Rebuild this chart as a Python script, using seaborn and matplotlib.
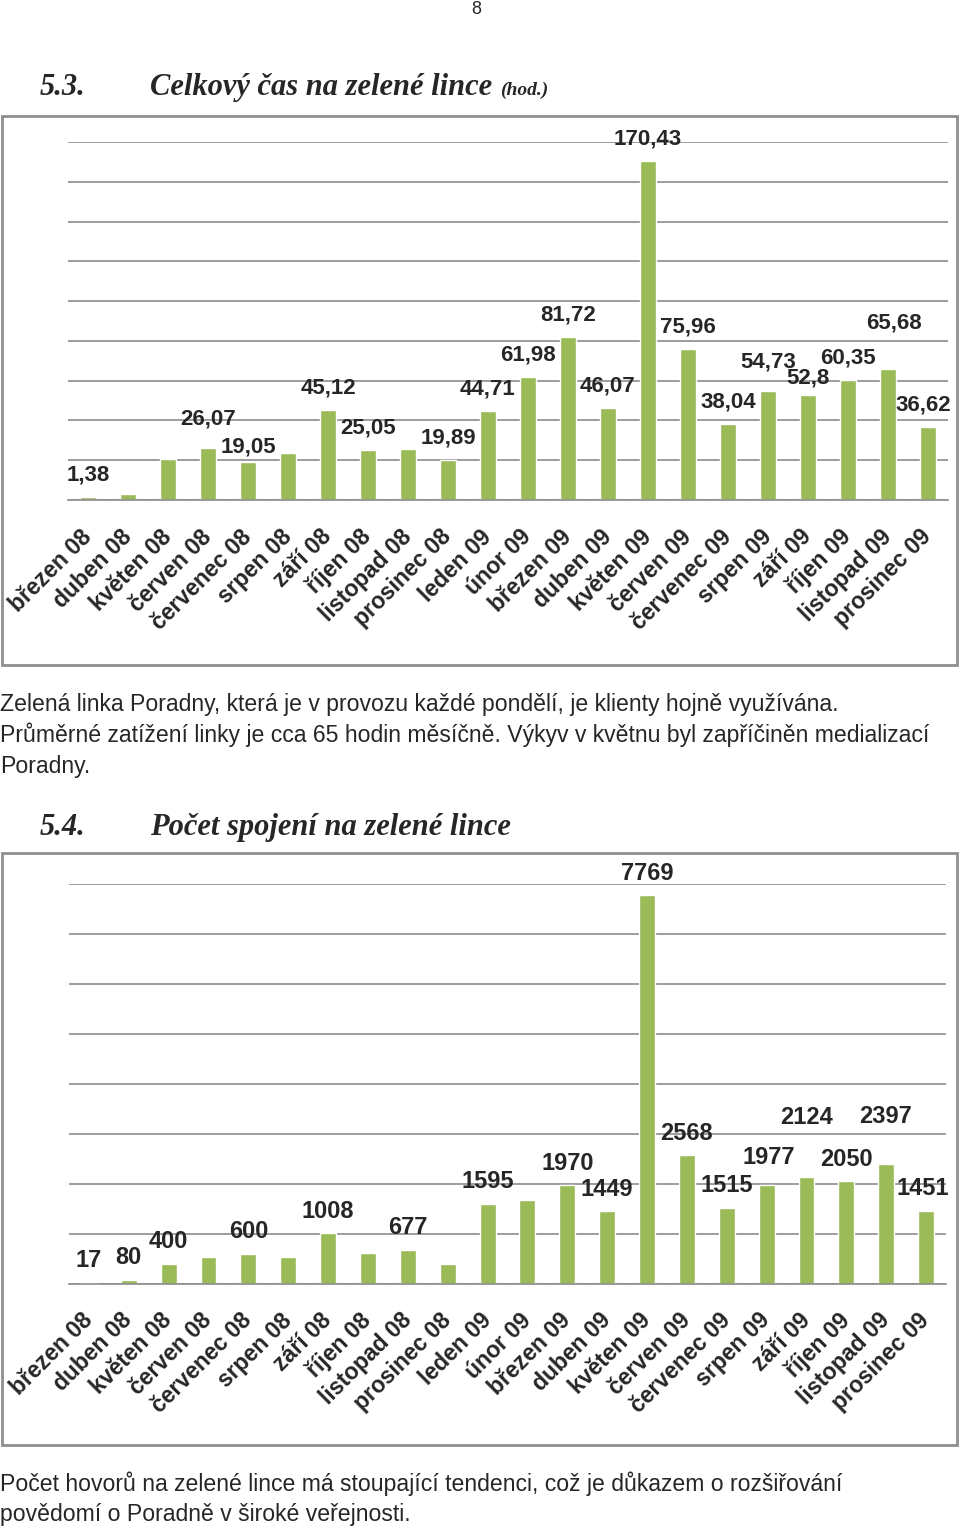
import matplotlib
matplotlib.use("Agg")
import matplotlib.pyplot as plt
import matplotlib.patches as patches
import seaborn as sns
import pandas as pd

# -------------------------------
# Data
# -------------------------------
months = ["březen 08", "duben 08", "květen 08", "červen 08", "červenec 08", "srpen 08",
          "září 08", "říjen 08", "listopad 08", "prosinec 08", "leden 09", "únor 09",
          "březen 09", "duben 09", "květen 09", "červen 09", "červenec 09", "srpen 09",
          "září 09", "říjen 09", "listopad 09", "prosinec 09"]

# 5.3 total time on the green line (hours)
hours = [1.38, 3.2, 20.4, 26.07, 19.05, 23.6, 45.12, 25.05, 25.6, 19.89, 44.71, 61.98,
         81.72, 46.07, 170.43, 75.96, 38.04, 54.73, 52.8, 60.35, 65.68, 36.62]
# which bars carry a data label in the original
hours_labeled = [0, 3, 4, 6, 7, 9, 10, 11, 12, 13, 14, 15, 16, 17, 18, 19, 20, 21]

# 5.4 number of calls
calls = [17, 80, 400, 540, 600, 540, 1008, 620, 677, 400, 1595, 1680,
         1970, 1449, 7769, 2568, 1515, 1977, 2124, 2050, 2397, 1451]
calls_labeled = [0, 1, 2, 4, 6, 8, 10, 12, 13, 14, 15, 16, 17, 18, 19, 20, 21]

# manual label nudges (pixels) for labels moved by hand in the original
hours_nudge = {3: (0, 7), 4: (0, -7), 17: (0, 7), 18: (0, -5), 20: (6, 24), 21: (-5, 0)}
calls_nudge = {17: (2, 5), 18: (0, 38), 20: (-1, 25), 21: (-3, 0)}

GREEN = "#9BBB59"
GRID = "#8c8c8c"

sns.set_style("white")
plt.rcParams["font.family"] = ["Liberation Sans", "DejaVu Sans"]

W, H = 960, 1529
fig = plt.figure(figsize=(W / 100, H / 100), dpi=100)


def fx(px):
    return px / W


def fy(py):
    return 1 - py / H


def frame(x0, y0, x1, y1):
    fig.patches.append(patches.Rectangle((fx(x0), fy(y1)), fx(x1) - fx(x0), fy(y0) - fy(y1),
                                         transform=fig.transFigure, fill=False,
                                         edgecolor="#8f8f8f", linewidth=2))


def bar_chart(rect, values, labeled, fmt, nudge, ymax, step, label_size):
    left, top, right, bottom = rect
    ax = fig.add_axes([fx(left), fy(bottom), fx(right) - fx(left), fy(top) - fy(bottom)])
    df = pd.DataFrame({"month": months, "value": values})
    sns.barplot(data=df, x="month", y="value", color=GREEN, saturation=1, width=0.4, ax=ax)
    ax.set_ylim(0, ymax)
    ax.set_xlim(-0.5, len(months) - 0.5)
    ax.set_yticks(range(0, ymax + 1, step))
    ax.yaxis.grid(True, color=GRID, linewidth=1.2)
    ax.set_axisbelow(True)
    for s in ["left", "top", "right"]:
        ax.spines[s].set_visible(False)
    ax.spines["bottom"].set_color(GRID)
    ax.spines["bottom"].set_linewidth(1.2)
    ax.set_xlabel("")
    ax.set_ylabel("")
    ax.tick_params(axis="y", left=False, labelleft=False)
    ax.set_xticks([i - 0.5 for i in range(len(months) + 1)], minor=True)
    ax.tick_params(axis="x", which="minor", length=6, color=GRID, width=1.2)
    ax.tick_params(axis="x", which="major", length=0, pad=24)
    ax.set_xticks(range(len(months)))
    ax.set_xticklabels(months, rotation=45, ha="right", va="center",
                       rotation_mode="anchor", fontsize=16.5, fontweight="bold")
    for i in labeled:
        dx, dy = nudge.get(i, (0, 0))
        ax.annotate(fmt(values[i]), (i, values[i]), xytext=(dx, 22 + dy),
                    textcoords="offset pixels", ha="center", va="center",
                    fontsize=label_size, fontweight="bold", annotation_clip=False)
    return ax


def cz(v):
    s = f"{v:.2f}".rstrip("0").rstrip(".")
    return s.replace(".", ",")


# -------------------------------
# Page texts
# -------------------------------
fig.text(fx(476), fy(9), "8", ha="center", va="center", fontsize=13)

serif = ["Liberation Serif", "DejaVu Serif"]
fig.text(fx(40), fy(95), "5.3.", fontsize=22, fontweight="bold", style="italic", family=serif)
t1 = fig.text(fx(150), fy(95), "Celkový čas na zelené lince", fontsize=22,
              fontweight="bold", style="italic", family=serif)
fig.text(fx(40), fy(835), "5.4.", fontsize=22, fontweight="bold", style="italic", family=serif)
fig.text(fx(150), fy(835), "Počet spojení na zelené lince", fontsize=22,
         fontweight="bold", style="italic", family=serif)

fig.canvas.draw()
ext = t1.get_window_extent()
fig.text(ext.x1 / W + fx(8), fy(95), "(hod.)", fontsize=14, fontweight="bold",
         style="italic", family=serif)

para1 = ["Zelená linka Poradny, která je v provozu každé pondělí, je klienty hojně využívána.",
         "Průměrné zatížení linky je cca 65 hodin měsíčně. Výkyv v květnu byl zapříčiněn medializací",
         "Poradny."]
for k, line in enumerate(para1):
    fig.text(fx(0), fy(704 + 31 * k), line, fontsize=16.6, va="center")

para2 = ["Počet hovorů na zelené lince má stoupající tendenci, což je důkazem o rozšiřování",
         "povědomí o Poradně v široké veřejnosti."]
for k, line in enumerate(para2):
    fig.text(fx(0), fy(1484 + 31 * k), line, fontsize=16.6, va="center")

# -------------------------------
# Charts
# -------------------------------
frame(2, 116, 957, 665)
bar_chart((68, 142, 948, 500), hours, hours_labeled, cz, hours_nudge, 180, 20, 16)

frame(2, 853, 957, 1445)
bar_chart((69, 883.5, 946, 1283.5), calls, calls_labeled, lambda v: str(v), calls_nudge,
          8000, 1000, 17)

fig.savefig("out.png", dpi=100)
